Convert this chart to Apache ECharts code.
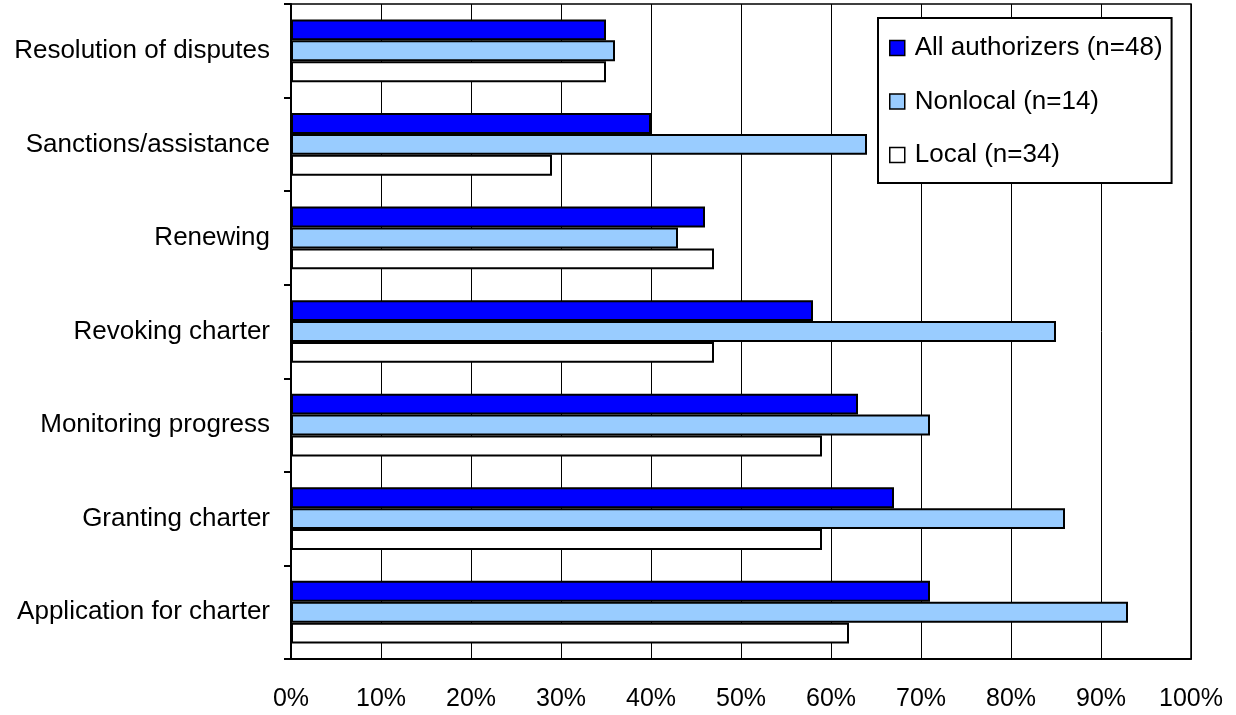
<!DOCTYPE html>
<html>
<head>
<meta charset="utf-8">
<script src="https://cdn.jsdelivr.net/npm/echarts@6/dist/echarts.min.js"></script>
<style>
html,body{margin:0;padding:0;background:#fff;}
#chart{width:1236px;height:715px;}
</style>
</head>
<body>
<div id="chart"></div>
<script>
const categories = ['Resolution of disputes', 'Sanctions/assistance', 'Renewing', 'Revoking charter', 'Monitoring progress', 'Granting charter', 'Application for charter'];
const allAuthorizers = [35, 40, 46, 58, 63, 67, 71];
const nonlocal = [36, 64, 43, 85, 71, 86, 93];
const local = [35, 29, 47, 47, 59, 59, 62];
const seriesNames = ['All authorizers (n=48)', 'Nonlocal (n=14)', 'Local (n=34)'];
const seriesColors = ['#0000FF', '#99CCFF', '#FFFFFF'];
const xTicks = [0, 10, 20, 30, 40, 50, 60, 70, 80, 90, 100];

const FONT = "'Liberation Sans', Arial, sans-serif";
const chart = echarts.init(document.getElementById('chart'), null, {renderer: 'canvas'});
const values = [allAuthorizers, nonlocal, local];

chart.setOption({
  animation: false,
  backgroundColor: '#fff',
  textStyle: {fontFamily: FONT},
  grid: {left: 291, right: 45, top: 4, bottom: 56, show: true, borderColor: '#000', borderWidth: 1.5, backgroundColor: 'transparent'},
  legend: {
    orient: 'vertical', left: 878, top: 18,
    backgroundColor: '#fff', borderColor: '#000', borderWidth: 2,
    padding: [17, 9, 15, 11],
    itemWidth: 15, itemHeight: 15, itemGap: 27.5,
    icon: 'rect',
    itemStyle: {borderColor: '#000', borderWidth: 1.5},
    textStyle: {fontFamily: FONT, fontSize: 26, color: '#000', padding: [0, 0, 0, 5], lineHeight: 20, height: 20},
    data: seriesNames
  },
  xAxis: {
    type: 'value', min: 0, max: 100, interval: 10,
    axisLine: {show: true, lineStyle: {color: '#000', width: 2}},
    axisTick: {show: false},
    splitLine: {show: true, lineStyle: {color: '#000', width: 1}},
    axisLabel: {
      color: '#000', fontSize: 25, fontFamily: FONT, margin: 28,
      formatter: function (v) { return xTicks.indexOf(v) >= 0 ? v + '%' : ''; }
    }
  },
  yAxis: {
    type: 'category', data: categories, inverse: true,
    axisLine: {show: true, lineStyle: {color: '#000', width: 2}},
    axisTick: {show: true, inside: false, length: 7, lineStyle: {color: '#000', width: 2}},
    axisLabel: {color: '#000', fontSize: 26, fontFamily: FONT, margin: 21}
  },
  series: seriesNames.map(function (name, i) {
    return {
      name: name, type: 'bar', data: values[i],
      barGap: '0%', barCategoryGap: '33%',
      itemStyle: {color: seriesColors[i], borderColor: '#000', borderWidth: 2},
      emphasis: {disabled: true}
    };
  })
});
</script>
</body>
</html>
